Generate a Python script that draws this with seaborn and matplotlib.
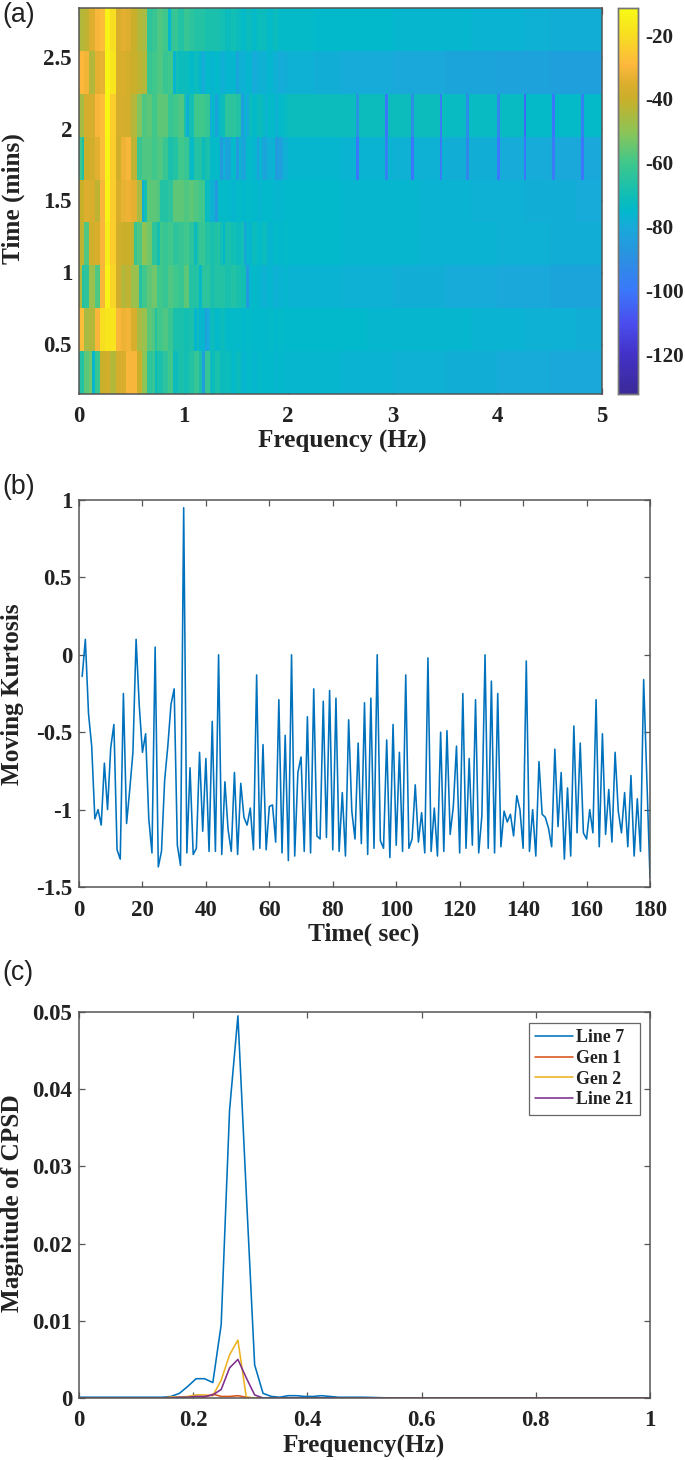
import numpy as np
import pandas as pd
import matplotlib
matplotlib.use("Agg")
import matplotlib.pyplot as plt
from matplotlib.colors import LinearSegmentedColormap
import seaborn as sns

# ---------- panel (a): spectrogram, rows top to bottom ----------
# 0-2 Hz in 0.05 Hz bins
row1_low = [-44,-42,-35,-30,-28,-14,-20,-36,-34,-35,-40,-44,-46,-64,-62,-58,-60,-64,-62,-66,-62,-64,-66,-66,-68,-68,-68,-70,-72,-70,-72,-74,-72,-74,-72,-72,-74,-72,-74,-74]
row2_low = [-29,-31,-44,-34,-33,-13,-18,-36,-36,-38,-40,-42,-44,-62,-60,-58,-62,-60,-70,-72,-72,-74,-72,-76,-74,-76,-74,-78,-76,-76,-78,-78,-76,-80,-78,-78,-76,-78,-80,-79]
row3_low = [-46,-37,-37,-30,-28,-13,-24,-37,-37,-38,-44,-52,-58,-56,-60,-56,-56,-62,-60,-58,-68,-70,-60,-60,-62,-74,-76,-72,-64,-64,-66,-76,-72,-74,-72,-73,-74,-74,-74,-73]
row4_low = [-60,-40,-38,-34,-28,-14,-24,-38,-32,-30,-42,-62,-58,-58,-60,-58,-62,-68,-66,-60,-62,-72,-66,-66,-68,-74,-74,-78,-82,-74,-76,-82,-74,-76,-76,-82,-78,-76,-84,-78]
row5_low = [-40,-35,-36,-42,-30,-14,-24,-36,-33,-32,-34,-46,-70,-56,-56,-58,-66,-64,-56,-56,-58,-56,-58,-60,-72,-78,-74,-74,-74,-76,-74,-75,-74,-75,-76,-75,-75,-76,-76,-75]
row6_low = [-42,-58,-38,-36,-30,-16,-24,-38,-40,-40,-42,-58,-50,-54,-64,-60,-62,-60,-64,-62,-60,-64,-66,-62,-66,-68,-66,-70,-68,-70,-72,-70,-76,-72,-74,-72,-76,-74,-75,-74]
row7_low = [-44,-64,-48,-58,-30,-14,-22,-38,-44,-42,-48,-48,-60,-56,-54,-60,-62,-58,-60,-62,-56,-66,-66,-64,-64,-68,-66,-66,-68,-66,-68,-70,-76,-74,-76,-78,-76,-78,-77,-76]
row8_low = [-28,-46,-44,-30,-20,-18,-18,-30,-32,-31,-36,-46,-48,-56,-58,-60,-58,-62,-68,-68,-70,-68,-72,-76,-80,-72,-74,-72,-74,-74,-74,-75,-74,-75,-75,-75,-74,-75,-74,-75]
row9_low = [-66,-56,-54,-62,-40,-38,-44,-37,-36,-30,-30,-40,-50,-64,-62,-68,-64,-60,-72,-68,-70,-66,-62,-68,-62,-72,-68,-72,-72,-74,-72,-76,-74,-76,-74,-75,-75,-76,-75,-76]

# 2-5 Hz in 0.25 Hz bins
row1_high = [-74,-75,-75,-75,-76,-76,-76,-77,-77,-78,-79,-79]
row2_high = [-78,-79,-80,-80,-81,-81,-82,-82,-83,-83,-84,-84]
row3_high = [-72,-72,-72,-72,-72,-72,-73,-73,-73,-74,-74,-74]
row4_high = [-76,-76,-77,-77,-78,-78,-79,-79,-80,-80,-81,-81]
row5_high = [-75,-75,-76,-76,-76,-77,-77,-78,-78,-79,-79,-80]
row6_high = [-75,-75,-76,-76,-76,-77,-77,-77,-78,-78,-79,-79]
row7_high = [-77,-77,-78,-78,-79,-79,-80,-80,-81,-81,-82,-82]
row8_high = [-75,-75,-75,-76,-76,-76,-76,-77,-77,-78,-78,-79]
row9_high = [-76,-76,-77,-77,-78,-78,-79,-79,-80,-80,-81,-81]

# thin stripes: row index, frequency, level
stripe_rows = [0, 0,
               1, 1, 1,
               2, 2, 2, 2, 2, 2, 2,
               3, 3, 3, 3, 3, 3, 3,
               4, 4, 4, 4,
               5, 5, 5, 5, 5,
               6, 6, 6, 6,
               7, 7, 7,
               8, 8, 8, 8]
stripe_freqs = [.85, 1.44,
                .92, 1.19, 1.52,
                1.045, 1.27, 1.315, 1.57, 1.62, 1.79, 1.90,
                .04, 1.08, 1.19, 1.36, 1.52, 1.71, 1.89,
                .61, .79, 1.22, 1.30,
                .53, .77, 1.12, 1.38, 1.59,
                .04, .60, 1.16, 1.62,
                .73, 1.12, 1.22,
                .15, .73, .95, 1.19]
stripe_levels = [-76, -72,
                 -76, -80, -82,
                 -78, -78, -82, -84, -80, -78, -78,
                 -68, -74, -72, -86, -86, -84, -86,
                 -78, -66, -74, -86,
                 -62, -70, -72, -76, -82,
                 -66, -66, -74, -86,
                 -66, -76, -84,
                 -76, -72, -72, -84]

dip_freqs = [2.66, 2.94, 3.18, 3.47, 3.72, 4.00, 4.27, 4.53, 4.81]
row3_dips = [-88, -100, -90, -98, -92, -94, -104, -100, -96]
row4_dips = [-100, -96, -100, -98, -94, -100, -100, -98, -100]

times_ticks = [0.5, 1, 1.5, 2, 2.5]
time_limits = [0.153, 2.84]
freq_ticks_a = [0, 1, 2, 3, 4, 5]
cbar_ticks = [-20, -40, -60, -80, -100, -120]
color_limits = [-132.5, -11.5]
cmap_values = [-132.5, -120, -110, -100, -90, -80, -75, -70, -60, -50, -40, -35, -29, -20, -11.5]
cmap_colors = ["#3B2A98", "#4332C8", "#4A4FEF", "#3A78FA", "#2B90E2", "#17AAD8", "#02B9CC", "#12BEB4",
               "#3FC78C", "#8EC455", "#C9AF2A", "#DDAE2E", "#FDB83C", "#F8DD22", "#F8FA14"]

# ---------- panel (b): moving kurtosis, one value per second from t=1 ----------
kurt_t = list(range(1, 181))
kurt = [-.14,.10,-.38,-.59,-1.06,-1.0,-1.10,-.70,-1.0,-.60,-.45,-1.26,-1.32,-.25,-1.09,-.87,-.63,.10,-.33,-.63,
        -.51,-1.06,-1.28,.05,-1.37,-1.27,-.81,-.59,-.32,-.22,-1.23,-1.36,.95,-1.28,-.73,-1.29,-1.25,-.63,-1.14,-.67,
        -1.27,-.43,-1.27,0,-1.29,-.82,-1.13,-1.27,-.76,-1.29,-.83,-1.05,-1.10,-.99,-1.26,-.13,-1.25,-.58,-1.26,-.98,
        -.97,-1.21,-.29,-1.28,-.52,-1.33,0,-1.30,-.76,-.66,-1.27,-.40,-1.28,-.22,-1.17,-1.19,-.30,-1.18,-.23,-1.26,
        -.28,-1.27,-.89,-1.30,-.42,-1.01,-1.19,-.57,-1.22,-.31,-1.29,-.28,-1.25,0,-1.20,-1.25,-.55,-1.31,-.45,-1.23,
        -.63,-1.27,-.13,-1.25,-1.19,-.84,-1.21,-1.02,-1.28,-.02,-1.27,-.99,-1.30,-.50,-1.27,-.49,-1.16,-.98,-.59,-1.28,
        -.25,-1.25,-.67,-1.23,-.29,-1.28,-1.04,0,-1.25,-.17,-1.28,-.25,-1.24,-1.01,-1.08,-1.03,-1.17,-.91,-1.0,-1.25,
        -.04,-1.27,-1.0,-1.30,-.69,-1.03,-1.05,-1.12,-1.24,-.61,-1.11,-.76,-1.32,-.86,-1.30,-.46,-1.15,-.57,-1.15,-1.19,
        -1.0,-1.15,-.29,-1.24,-.51,-1.16,-.87,-1.21,-.63,-1.01,-1.15,-.89,-1.24,-.78,-1.30,-.93,-1.27,-.16,-.79,-1.44]
kurt_xticks = list(range(0, 181, 20))
kurt_yticks = [-1.5, -1, -0.5, 0, 0.5, 1]
kurt_ylabels = ["-1.5", "-1", "-0.5", "0", "0.5", "1"]

# ---------- panel (c): CPSD magnitude ----------
cpsd_f = [0,.0146,.0293,.0439,.0586,.0732,.0879,.1025,.1172,.1318,.1465,.1611,.1758,.1904,.2051,.2197,.2344,.2490,.2637,.2783,
          .2930,.3076,.3223,.3369,.3516,.3662,.3809,.3955,.4102,.4248,.4395,.4541,.4688,.4834,.4980,.55,.70,.85,1.0]
line7 = [.0001,.0001,.0001,.0001,.0001,.0001,.0001,.0001,.0001,.0001,.0001,.0002,.0006,.0015,.0025,.0025,.0020,.0095,.0373,.0495,
         .0265,.0043,.0006,.0002,.0001,.0003,.0003,.0002,.0002,.0003,.0002,.0001,.0001,.0001,.0001,.0,.0,.0,.0]
gen1 = [0,0,0,0,0,0,0,0,0,0,0,.0001,.0001,.0001,.0002,.0001,.0005,.0002,.0002,.0003,
        .0001,0,0,0,0,0,0,0,0,0,0,0,0,0,0,0,0,0,0]
gen2 = [0,0,0,0,0,0,0,0,0,0,0,.0001,.0001,.0002,.0004,.0004,.0003,.0023,.0056,.0075,
        .0001,0,0,0,0,0,0,0,0,0,0,0,0,0,0,0,0,0,0]
line21 = [0,0,0,0,0,0,0,0,0,0,0,0,.0001,.0001,.0002,.0002,.0004,.0011,.0039,.0050,
          .0026,.0004,0,0,0,0,0,0,0,0,0,0,0,0,0,0,0,0,0]
series_names = ["Line 7", "Gen 1", "Gen 2", "Line 21"]
series_colors = ["#0072BD", "#D95319", "#EDB120", "#7E2F8E"]
cpsd_xticks = [0, 0.2, 0.4, 0.6, 0.8, 1]
cpsd_yticks = [0, 0.01, 0.02, 0.03, 0.04, 0.05]

# ---------- figure ----------
W, H = 685, 1460
sns.set_style("white")
plt.rcParams["font.family"] = ["Liberation Serif"]
plt.rcParams["font.weight"] = "bold"
plt.rcParams["axes.unicode_minus"] = False
AX_COL = "#555555"
TXT_COL = "#222222"
TICK_FS = 16.5
LABEL_FS = 18.2

def box(x0, y0, x1, y1):
    return [x0 / W, 1 - y1 / H, (x1 - x0) / W, (y1 - y0) / H]

def style(ax):
    for s in ax.spines.values():
        s.set_visible(True)
        s.set_color(AX_COL)
        s.set_linewidth(1.1)
    ax.tick_params(axis="both", which="both", direction="in", length=4, width=0.9, color=AX_COL,
                   top=True, right=True, bottom=True, left=True, labelsize=TICK_FS, labelcolor=TXT_COL)
    ax.tick_params(axis="x", pad=9)
    ax.tick_params(axis="y", pad=5)
    for t in ax.get_xticklabels() + ax.get_yticklabels():
        t.set_fontweight("bold")

def labels(ax, xlabel, ylabel, xpos, ypos):
    ax.set_xlabel(xlabel, fontsize=LABEL_FS, fontweight="bold", color=TXT_COL, va="center", ha="center")
    ax.set_ylabel(ylabel, fontsize=LABEL_FS, fontweight="bold", color=TXT_COL, va="center", ha="center")
    ax.xaxis.set_label_coords(xpos[0] / W, 1 - xpos[1] / H, transform=ax.figure.transFigure)
    ax.yaxis.set_label_coords(ypos[0] / W, 1 - ypos[1] / H, transform=ax.figure.transFigure)

fig = plt.figure(figsize=(W / 100, H / 100), dpi=100, facecolor="white")

# (a)
ax_a = fig.add_axes(box(79, 8, 602, 394))
cax = fig.add_axes(box(618, 8, 638, 394))
lows = [row1_low, row2_low, row3_low, row4_low, row5_low, row6_low, row7_low, row8_low, row9_low]
highs = [row1_high, row2_high, row3_high, row4_high, row5_high, row6_high, row7_high, row8_high, row9_high]
grid = np.array([np.r_[np.repeat(l, 2), np.repeat(h, 10)] for l, h in zip(lows, highs)], dtype=float)
for r, f, v in zip(stripe_rows, stripe_freqs, stripe_levels):
    grid[r, int(f / 0.025)] = v
for f, a, b in zip(dip_freqs, row3_dips, row4_dips):
    grid[2, int(f / 0.025)] = a
    grid[3, int(f / 0.025)] = b
frame = pd.DataFrame(grid)
span = color_limits[1] - color_limits[0]
parula = LinearSegmentedColormap.from_list(
    "parula", [((v - color_limits[0]) / span, c) for v, c in zip(cmap_values, cmap_colors)], N=256)
sns.heatmap(frame, ax=ax_a, cbar_ax=cax, cmap=parula, vmin=color_limits[0], vmax=color_limits[1],
            xticklabels=False, yticklabels=False, rasterized=True)
nrows, ncols = grid.shape
ax_a.set_xticks([f / 5 * ncols for f in freq_ticks_a])
ax_a.set_xticklabels([str(f) for f in freq_ticks_a], rotation=0)
ax_a.set_yticks([(time_limits[1] - t) / (time_limits[1] - time_limits[0]) * nrows for t in times_ticks])
ax_a.set_yticklabels([str(t) for t in times_ticks], rotation=0)
style(ax_a)
labels(ax_a, "Frequency (Hz)", "Time (mins)", (342, 441), (13, 199))
cax.set_yticks(cbar_ticks)
cax.set_yticklabels([str(c) for c in cbar_ticks])
cax.tick_params(axis="y", direction="in", length=3, width=0.9, color=AX_COL, right=True, left=False,
                labelsize=15.2, labelcolor=TXT_COL, pad=5)
for s in cax.spines.values():
    s.set_visible(True)
    s.set_color("#777777")
    s.set_linewidth(1.0)

# (b)
ax_b = fig.add_axes(box(79, 500, 650, 887))
sns.lineplot(x=kurt_t, y=kurt, ax=ax_b, color="#0072BD", linewidth=1.15, estimator=None, sort=False)
ax_b.set_xlim(0, 180)
ax_b.set_ylim(-1.5, 1)
ax_b.set_xticks(kurt_xticks)
ax_b.set_yticks(kurt_yticks)
ax_b.set_yticklabels(kurt_ylabels)
style(ax_b)
labels(ax_b, "Time( sec)", "Moving Kurtosis", (364, 934), (13, 694))

# (c)
ax_c = fig.add_axes(box(79, 1012, 650, 1398))
for name, vals, col in zip(series_names, [line7, gen1, gen2, line21], series_colors):
    sns.lineplot(x=cpsd_f, y=vals, ax=ax_c, color=col, linewidth=1.15, label=name, estimator=None, sort=False)
ax_c.set_xlim(0, 1)
ax_c.set_ylim(0, 0.05)
ax_c.set_xticks(cpsd_xticks)
ax_c.set_xticklabels(["0", "0.2", "0.4", "0.6", "0.8", "1"])
ax_c.set_yticks(cpsd_yticks)
ax_c.set_yticklabels(["0", "0.01", "0.02", "0.03", "0.04", "0.05"])
style(ax_c)
labels(ax_c, "Frequency(Hz)", "Magnitude of CPSD", (364, 1446), (13, 1203))
leg = ax_c.legend(loc="upper left", bbox_to_anchor=((529 - 79) / 571, 1 - 11 / 386), borderaxespad=0,
                  frameon=True, fancybox=False, framealpha=1, edgecolor="#666666",
                  handlelength=2.1, handletextpad=0.17, labelspacing=0.2, borderpad=0.36,
                  prop={"family": "Liberation Serif", "weight": "bold", "size": 12.9})
leg.get_frame().set_linewidth(0.9)
for t in leg.get_texts():
    t.set_color(TXT_COL)

# panel tags
for tag, y in zip(["(a)", "(b)", "(c)"], [15, 487, 973]):
    fig.text(2 / W, 1 - y / H, tag, family="Liberation Sans", fontweight="normal", fontsize=19.3,
             color=TXT_COL, va="center", ha="left")

fig.savefig("out.png", dpi=100, facecolor="white")
